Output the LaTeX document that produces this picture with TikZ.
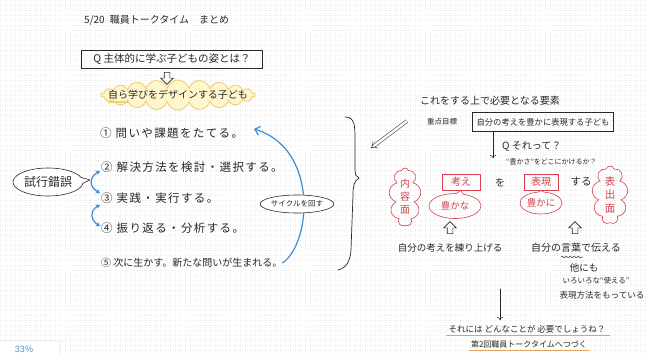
\documentclass[tikz,border=0pt]{standalone}
\usepackage{fontspec}
\setmainfont{Noto Sans CJK JP}
\newfontfamily\latinsans{Liberation Sans}
\usetikzlibrary{arrows.meta,shapes.symbols,shapes.callouts,shapes.arrows,shapes.geometric,decorations.pathmorphing}
\definecolor{redpen}{RGB}{214,64,76}
\definecolor{bluepen}{RGB}{60,140,220}
\definecolor{ink}{RGB}{40,40,40}
\definecolor{hiyellow}{RGB}{255,246,205}
\definecolor{yellowline}{RGB}{240,208,110}
\definecolor{orangeline}{RGB}{225,165,90}
\definecolor{gridc}{RGB}{238,238,238}
\definecolor{pctblue}{RGB}{70,150,190}
\tikzset{
  txt/.style={text=ink, inner sep=0pt},
  redtxt/.style={text=redpen, inner sep=0pt},
  inkbox/.style={draw=ink, line width=0.7pt, text=ink, inner sep=2pt},
  redbox/.style={draw=redpen, line width=0.7pt, text=redpen, inner sep=2pt},
  openarrow/.style={single arrow, draw=ink, line width=0.6pt, minimum height=12pt,
    inner sep=2.5pt, single arrow head extend=3.5pt},
  bluearrow/.style={draw=bluepen, line width=1.2pt, line cap=round},
  redcloud/.style={cloud, draw=redpen, line width=0.6pt, cloud puffs=9, inner sep=0pt},
  redcallout/.style={ellipse callout, draw=redpen, line width=0.6pt, text=redpen, inner sep=0pt},
  pen/.style={draw=ink, line width=0.6pt, line cap=round},
  item/.style={txt, anchor=west, font=\fontsize{11.5}{13}\selectfont\addfontfeature{LetterSpace=12}}
}
\begin{document}
\begin{tikzpicture}[x=1pt,y=-1pt]
\useasboundingbox (0,0) rectangle (646,354);
\fill[white] (0,0) rectangle (646,354);
\draw[gridc, line width=0.4pt, dotted, step=5pt] (0,0) grid (646,354);

% ---------- left half ----------
\node[txt, anchor=west, font=\fontsize{10}{12}\selectfont] (title) at (84,20) {5/20\enspace 職員トークタイム\quad まとめ};

\node[inkbox, minimum width=181pt, minimum height=18pt, font=\fontsize{10.5}{12}\selectfont] (qbox) at (172,59) {Q\ 主体的に学ぶ子どもの姿とは？};

\node[openarrow, shape border rotate=270] (arr1) at (167,77) {};

\node[cloud, cloud puffs=22, draw=yellowline, fill=hiyellow, line width=0.9pt, minimum width=154pt, minimum height=30pt, inner sep=0pt] (designcloud) at (178,95) {};
\node[txt, font=\fontsize{10}{12}\selectfont] (design) at (178,95) {自ら学びをデザインする子ども};
\draw[yellowline, line width=1.3pt] (design.south west) ++(0,2) -- ++(20,0);

\node[item] (s1) at (100,133) {① 問いや課題をたてる。};
\node[item] (s2) at (101,167) {② 解決方法を検討・選択する。};
\node[item] (s3) at (101,198) {③ 実践・実行する。};
\node[item] (s4) at (101,228) {④ 振り返る・分析する。};
\node[txt, anchor=west, font=\fontsize{10}{12}\selectfont] (s5) at (101,263) {⑤ 次に生かす。新たな問いが生まれる。};

\node[ellipse callout, draw=ink, line width=0.6pt, fill=white, text=ink, minimum width=70pt, minimum height=28pt,
  inner sep=0pt, callout absolute pointer={(90,180)}, callout pointer arc=25,
  font=\fontsize{12}{14}\selectfont] (trial) at (48,182) {試行錯誤};

\coordinate (b1a) at (100,171);
\coordinate (b1b) at (100,193);
\coordinate (b2a) at (100,205);
\coordinate (b2b) at (100,226);
\draw[bluearrow, {Stealth[length=4pt,width=5pt]}-{Stealth[length=4pt,width=5pt]}] (b1a) .. controls (89,177) and (89,187) .. (b1b);
\draw[bluearrow, {Stealth[length=4pt,width=5pt]}-{Stealth[length=4pt,width=5pt]}] (b2a) .. controls (90,210) and (90,220) .. (b2b);

\coordinate (cyc) at (254,129);
\draw[bluearrow, -{Straight Barb[length=5pt,width=9pt]}] (s5.east) .. controls (312,242) and (318,148) .. (cyc);
\node[ellipse, draw=ink, fill=white, line width=0.6pt, text=ink, minimum width=62pt, minimum height=18pt, inner sep=0pt,
  font=\fontsize{7.5}{9}\selectfont] (cycle) at (297,204) {サイクルを回す};

% brace
\draw[pen, line width=0.7pt] (345,117) .. controls (355,117) and (355,126) .. (355,140)
  -- (355,168) .. controls (355,175) and (356,177) .. (359,178)
  .. controls (354,181) and (353,186) .. (353,195)
  -- (351,250) .. controls (350,262) and (346,268) .. (338,270);

% double arrow
\coordinate (da) at (407,121);
\coordinate (db) at (371,148);
\draw[ink, line width=0.5pt, double, double distance=2.5pt, -{Implies}] (da) -- (db);

% ---------- right half ----------
\node[txt, font=\fontsize{10}{12}\selectfont] (need) at (490,101) {これをする上で必要となる要素};
\node[txt, font=\fontsize{7.5}{9}\selectfont] (juten) at (442,122) {重点目標};
\node[inkbox, minimum width=141pt, minimum height=19pt, font=\fontsize{8.3}{10}\selectfont] (goal) at (543,122) {自分の考えを豊かに表現する子ども};

\coordinate (q1) at (493,158);
\draw[pen, -{To[length=3pt]}] (goal.south -| q1) -- (q1);
\node[txt, anchor=west, font=\fontsize{10}{12}\selectfont] (sore) at (502,146) {Q\ それって？};
\node[txt, anchor=west, font=\fontsize{7}{8}\selectfont] (yutakasa) at (506,162) {“豊かさ”をどこにかけるか？};

\node[redcloud, minimum width=32pt, minimum height=58pt] (naiyocloud) at (405,197) {};
\node[redtxt, align=center, font=\fontsize{10}{13}\selectfont] (naiyo) at (405,197) {内\\容\\面};
\node[redcloud, minimum width=36pt, minimum height=58pt] (hyoshutsucloud) at (610,195) {};
\node[redtxt, align=center, font=\fontsize{10.5}{13.5}\selectfont] (hyoshutsu) at (610,195) {表\\出\\面};

\node[redbox, minimum width=38pt, minimum height=16pt, font=\fontsize{10}{12}\selectfont] (kangae) at (461,182) {考え};
\node[txt, font=\fontsize{10}{12}\selectfont] (wo) at (500,183) {を};
\node[redbox, minimum width=34pt, minimum height=16pt, font=\fontsize{10}{12}\selectfont] (hyogen) at (541,182) {表現};
\node[txt, font=\fontsize{10.5}{12}\selectfont] (suru) at (581,182) {する};

\node[redcallout, minimum width=52pt, minimum height=25pt, callout absolute pointer={(kangae.south)},
  font=\fontsize{9.5}{11}\selectfont] (yutakana) at (455,206) {豊かな};
\node[redcallout, minimum width=42pt, minimum height=22pt, callout absolute pointer={(hyogen.south)},
  font=\fontsize{9.5}{11}\selectfont] (yutakani) at (541,203) {豊かに};

\node[openarrow, shape border rotate=90] (up1) at (450,229) {};
\node[openarrow, shape border rotate=90] (up2) at (575,229) {};

\node[txt, font=\fontsize{9.5}{11}\selectfont] (neri) at (450,248) {自分の考えを練り上げる};
\node[txt, font=\fontsize{10}{12}\selectfont] (tsutaeru) at (576,248) {自分の言葉で伝える};
\draw[ink, line width=0.5pt, decorate, decoration={snake, amplitude=0.8pt, segment length=4pt}] (561,257) -- (583,257);

\node[txt, font=\fontsize{9.5}{11}\selectfont] (hoka) at (584,268) {他にも};
\node[txt, font=\fontsize{7.5}{9}\selectfont] (iroiro) at (596,281) {いろいろな“使える”};
\node[txt, font=\fontsize{8.5}{10}\selectfont] (hoho) at (602,295) {表現方法をもっている};

\coordinate (d2a) at (500,289);
\coordinate (d2b) at (500,320);
\draw[pen, -{To[length=3pt]}] (d2a) -- (d2b);

\node[txt, font=\fontsize{8.5}{10}\selectfont] (q2) at (527,329) {それには\ どんなことが\ 必要でしょうね？};
\draw[orangeline, line width=0.8pt] ([yshift=-2pt,xshift=-2pt]q2.south west) -- ([yshift=-2pt,xshift=4pt]q2.south east);
\node[txt, font=\fontsize{8}{10}\selectfont] (next) at (529,344) {第2回職員トークタイムへつづく};
\draw[orangeline, line width=0.8pt] ([yshift=-2pt,xshift=-2pt]next.south west) -- ([yshift=-2pt,xshift=2pt]next.south east);

% percentage tab
\node[draw=gray!25, fill=white, rounded corners=2pt, minimum width=62pt, minimum height=16pt, anchor=south west] (tab) at (-3,357) {};
\node[text=pctblue, inner sep=0pt, font=\latinsans\fontsize{9}{10}\selectfont] (pct) at (24,349) {33\%};
\end{tikzpicture}
\end{document}
